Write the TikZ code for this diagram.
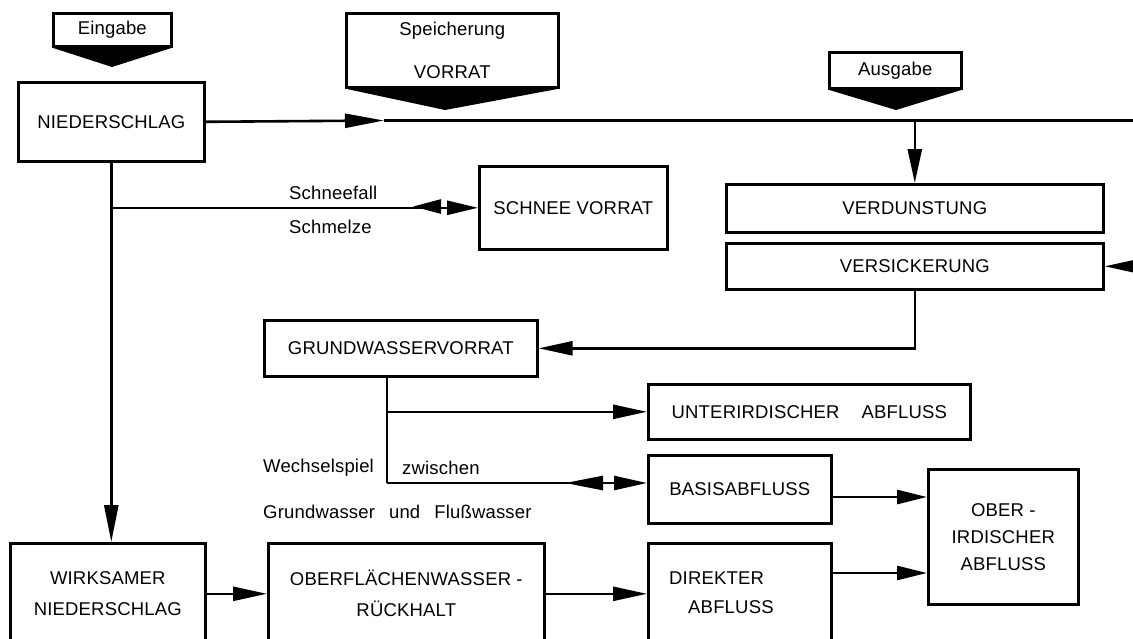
\documentclass[tikz,border=0pt]{standalone}
\usepackage{fontspec}
\setmainfont{Liberation Sans}[LetterSpace=1]
\usetikzlibrary{arrows.meta}
\begin{document}
\begin{tikzpicture}[x=1pt,y=-1pt,
  lw/.style={line width=2.6pt},
  box/.style={draw, lw, anchor=north west, inner sep=0pt, align=center, font=\fontsize{18.5}{27}\selectfont},
  lbl/.style={anchor=west, inner sep=0pt, font=\fontsize{18.5}{22}\selectfont},
  con/.style={lw, -{Triangle[length=34pt,width=14pt]}},
  ]
\useasboundingbox (0,0) rectangle (1133,638);
\clip (0,0) rectangle (1133,638);
\fill[white] (0,0) rectangle (1133,638);

% pointer boxes
\node[box, minimum width=118pt, minimum height=33pt] (eing) at (52,12) {Eingabe};
\node[box, minimum width=212pt, minimum height=74pt, font=\fontsize{18.5}{43}\selectfont] (speich) at (345,12) {Speicherung\\VORRAT};
\node[box, minimum width=132pt, minimum height=36pt] (ausg) at (828,51) {Ausgabe};
\coordinate (eingp) at (112,67);
\coordinate (speichp) at (445,110);
\coordinate (ausgp) at (896,110);
\fill (eing.south west) -- (eing.south east) -- (eingp) -- cycle;
\fill (speich.south west) -- (speich.south east) -- (speichp) -- cycle;
\fill (ausg.south west) -- (ausg.south east) -- (ausgp) -- cycle;

% boxes
\node[box, minimum width=186pt, minimum height=79pt] (nied) at (17,81) {NIEDERSCHLAG};
\node[box, minimum width=188pt, minimum height=83pt] (schnee) at (478,165) {SCHNEE VORRAT};
\node[box, minimum width=377pt, minimum height=48pt] (verd) at (725,183) {VERDUNSTUNG};
\node[box, minimum width=377pt, minimum height=46pt] (vers) at (725,242) {VERSICKERUNG};
\node[box, minimum width=273pt, minimum height=56pt] (gw) at (263,319) {GRUNDWASSERVORRAT};
\node[box, minimum width=322pt, minimum height=55pt] (unter) at (647,383) {UNTERIRDISCHER\hspace{22pt}ABFLUSS};
\node[box, minimum width=183pt, minimum height=68pt] (basis) at (647,454) {BASISABFLUSS};
\node[box, minimum width=150pt, minimum height=135pt] (ober) at (927,468) {OBER -\\IRDISCHER\\ABFLUSS};
\node[box, minimum width=195pt, minimum height=101pt, font=\fontsize{18.5}{31}\selectfont] (wirk) at (9,542) {WIRKSAMER\\NIEDERSCHLAG};
\node[box, minimum width=276pt, minimum height=101pt, font=\fontsize{18.5}{31}\selectfont] (oberfl) at (267,542) {OBERFLÄCHENWASSER -\\RÜCKHALT};
\node[box, minimum width=183pt, minimum height=101pt] (direkt) at (647,542) {};
\node[lbl] (direkttxt) at (669,578) {DIREKTER};
\node[lbl] (direkttxt2) at (688,607) {ABFLUSS};

% labels
\node[lbl] (sf) at (289,193) {Schneefall};
\node[lbl] (sm) at (289,227) {Schmelze};
\node[lbl] (ws) at (263,468) {Wechselspiel};
\node[lbl] (zw) at (402,468) {zwischen};
\node[lbl] (gf) at (263,512) {Grundwasser\hspace{14pt}und\hspace{14pt}Flußwasser};

% main line
\coordinate (m1) at (384,120.5);
\coordinate (mr) at (1140,120.5);
\draw[lw, -{Triangle[length=39pt,width=14pt]}] (nied.east) -- (m1);
\draw[lw] (m1) -- (mr);
\draw[con] (verd.north |- m1) -- (verd.north);
\coordinate (rin) at (1145,0);
\draw[con] (rin |- vers.east) -- (vers.east);
\draw[con] (vers.south) |- (gw.east);
\draw[lw, -{Triangle[length=37pt,width=14pt]}] (nied.south) -- (nied.south |- wirk.north);

% snow
\coordinate (js) at (nied.south |- schnee.west);
\draw[lw, -{Triangle[length=31pt,width=14pt]}] (js) -- (schnee.west);
\coordinate (sa1) at (441,206.5);
\coordinate (sa2) at (413,206.5);
\draw[lw, -{Triangle[length=28pt,width=14pt]}] (sa1) -- (sa2);

% groundwater
\coordinate (g0) at (387,375);
\coordinate (jb) at (387,483);
\draw[lw] (g0) -- (jb);
\draw[con] (g0 |- unter.west) -- (unter.west);
\draw[lw, -{Triangle[length=33pt,width=14pt]}] (jb) -- (jb -| basis.west);
\coordinate (ba1) at (603,483);
\coordinate (ba2) at (565,483);
\draw[lw, -{Triangle[length=38pt,width=14pt]}] (ba1) -- (ba2);
\coordinate (b1) at (830,497);
\draw[lw, -{Triangle[length=30pt,width=14pt]}] (b1) -- (b1 -| ober.west);
\coordinate (d1) at (830,573);
\draw[lw, -{Triangle[length=30pt,width=14pt]}] (d1) -- (d1 -| ober.west);
\draw[con] (wirk.east) -- (oberfl.west);
\draw[con] (oberfl.east) -- (direkt.west);
\end{tikzpicture}
\end{document}
